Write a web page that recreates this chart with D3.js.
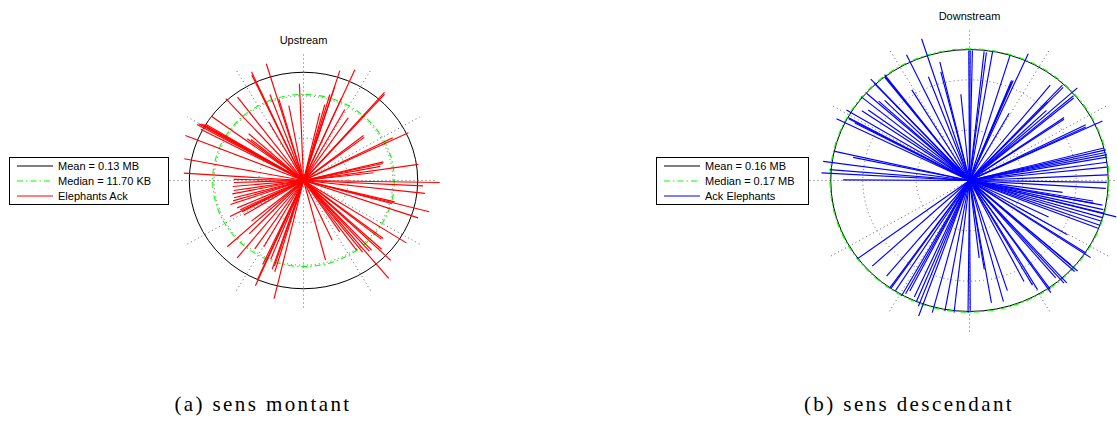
<!DOCTYPE html>
<html>
<head>
<meta charset="utf-8">
<script src="https://cdnjs.cloudflare.com/ajax/libs/d3/7.8.5/d3.min.js"></script>
<style>
  body { margin: 0; background: #fff; }
  svg { display: block; }
</style>
</head>
<body>
<script>
// spike directions (degrees, counter-clockwise from east) and sizes (log10 of bytes)
var upAngles = [176.3, 169.1, 158.1, 152.3, 151.0, 150.3, 149.8, 149.4, 148.8, 143.6,
  141.9, 140.5, 138.0, 132.0, 126.9, 119.3, 114.9, 114.4, 110.3, 106.8,
  106.0, 100.5, 92.3, 179.0, 77.1, 75.1, 73.8, 72.6, 72.5, 66.4,
  66.3, 61.1, 55.9, 48.9, 48.3, 38.3, 36.8, 26.8, 25.6, 13.8,
  12.7, 11.0, 8.4, 6.7, 359.1, 357.3, 353.6, 346.1, 345.3, 344.6,
  341.0, 327.4, 322.5, 321.5, 317.1, 316.0, 312.8, 311.5, 309.5, 308.0,
  305.8, 303.8, 294.5, 284.7, 256.7, 253.4, 252.2, 251.5, 248.5, 246.6,
  246.2, 245.3, 240.4, 236.0, 230.9, 226.0, 222.5, 219.5, 211.5, 208.3,
  207.3, 206.0, 203.5, 199.1, 197.0, 194.7, 191.2, 188.6, 185.1, 181.7];
var upLogBytes = [5.37, 5.44, 5.70, 5.20, 5.45, 5.40, 5.30, 5.20, 5.10, 5.12,
  3.20, 3.05, 3.30, 5.20, 4.92, 3.18, 5.50, 5.64, 4.33, 5.76,
  4.00, 3.60, 4.57, 3.13, 3.28, 3.71, 4.23, 5.44, 4.67, 4.26,
  5.72, 3.83, 3.57, 5.52, 5.45, 3.43, 3.40, 4.48, 5.21, 3.69,
  3.64, 3.50, 5.20, 3.15, 6.10, 5.36, 5.47, 4.21, 5.82, 4.10,
  5.43, 5.47, 4.50, 4.45, 4.77, 5.43, 4.50, 4.45, 6.00, 4.30,
  4.06, 2.92, 3.10, 3.89, 5.73, 4.50, 4.25, 4.42, 4.00, 5.42,
  5.15, 4.37, 3.60, 3.90, 4.71, 3.50, 4.63, 3.02, 3.13, 3.12,
  3.70, 3.15, 3.24, 3.46, 3.30, 3.22, 3.25, 3.16, 3.18, 3.12];

var downAngles = [107.7, 115.3, 103.3, 104.0, 95.4, 90.3, 127.1, 127.5, 127.8, 132.6,
  132.8, 138.1, 140.7, 137.2, 143.6, 148.7, 151.2, 151.6, 153.8, 152.0,
  167.1, 172.1, 168.1, 175.3, 176.9, 179.7, 145.5, 135.0, 121.0, 110.5,
  89.7, 88.8, 83.9, 82.9, 80.4, 73.0, 66.4, 68.4, 68.0, 67.6,
  60.9, 51.4, 47.4, 46.5, 46.8, 44.0, 42.3, 40.8, 40.0, 35.2,
  34.5, 26.9, 26.0, 25.4, 14.4, 13.4, 12.3, 11.3, 10.2, 8.0,
  5.9, 2.5, 270.3, 279.6, 284.8, 276.7, 278.9, 288.0, 297.0, 299.6,
  300.5, 304.4, 305.0, 311.9, 311.0, 309.9, 318.4, 317.5, 318.6, 326.6,
  326.0, 329.6, 334.0, 338.5, 340.0, 341.9, 343.5, 345.5, 347.0, 348.9,
  345.3, 349.0, 350.0, 352.3, 356.5, 359.2, 216.5, 223.0, 230.7, 235.0,
  235.5, 237.6, 240.9, 242.0, 243.0, 245.9, 247.5, 250.5, 249.0, 255.1,
  259.9, 263.7, 269.4];
var downLogBytes = [5.91, 5.53, 4.84, 4.45, 3.44, 5.17, 5.28, 5.20, 5.16, 5.47,
  5.26, 5.19, 5.26, 4.64, 4.72, 5.40, 5.19, 5.15, 5.56, 4.87,
  5.18, 5.54, 4.46, 5.26, 5.56, 4.74, 4.90, 4.50, 4.20, 4.40,
  5.17, 5.17, 5.16, 5.13, 5.20, 5.20, 5.50, 4.28, 4.22, 4.30,
  3.06, 4.85, 5.15, 5.10, 4.28, 4.00, 5.47, 5.15, 5.10, 4.34,
  4.30, 4.89, 4.85, 5.52, 5.20, 5.25, 5.22, 5.25, 5.24, 5.20,
  5.18, 5.18, 5.18, 4.93, 4.98, 3.10, 3.58, 4.60, 4.50, 4.78,
  5.03, 5.40, 5.28, 5.46, 5.40, 5.04, 5.42, 5.35, 5.06, 5.23,
  5.48, 4.26, 3.30, 5.18, 5.20, 5.18, 5.20, 5.22, 5.15, 5.08,
  5.69, 4.76, 4.70, 3.52, 5.12, 5.15, 5.22, 4.99, 4.91, 5.21,
  5.18, 5.18, 5.25, 5.10, 4.93, 5.07, 5.20, 5.71, 5.35, 5.43,
  5.27, 5.28, 5.26];

// mean and median in bytes
var upStats = [130000, 11700];
var downStats = [160000, 170000];

var upLegend = ["Mean = 0.13 MB", "Median = 11.70 KB", "Elephants Ack"];
var downLegend = ["Mean = 0.16 MB", "Median = 0.17 MB", "Ack Elephants"];

var ringTicks = [2, 4];
var spokeAngles = [0, 30, 60, 90, 120, 150];
var rMax = 6;

var w = 1117, h = 423;

var svg = d3.select("body").append("svg")
  .attr("width", w)
  .attr("height", h);

function drawPanel(p) {
  var rx = d3.scaleLinear().domain([0, rMax]).range([0, p.Rx]);
  var ry = d3.scaleLinear().domain([0, rMax]).range([0, p.Ry]);
  var rad = Math.PI / 180;

  var g = svg.append("g")
    .attr("transform", "translate(" + p.cx + "," + p.cy + ")");

  // dotted polar grid
  g.selectAll(".ring")
    .data(ringTicks)
    .enter()
    .append("ellipse")
    .attr("class", "ring")
    .attr("rx", function(d){ return rx(d) })
    .attr("ry", function(d){ return ry(d) })
    .style("fill", "none")
    .style("stroke", "#666")
    .style("stroke-width", 1)
    .style("stroke-dasharray", "1,3");

  g.selectAll(".spoke")
    .data(spokeAngles)
    .enter()
    .append("line")
    .attr("class", "spoke")
    .attr("x1", function(d){ return -rx(rMax) * Math.cos(d * rad) })
    .attr("y1", function(d){ return ry(rMax) * Math.sin(d * rad) })
    .attr("x2", function(d){ return rx(rMax) * Math.cos(d * rad) })
    .attr("y2", function(d){ return -ry(rMax) * Math.sin(d * rad) })
    .style("stroke", "#666")
    .style("stroke-width", 1)
    .style("stroke-dasharray", "1,3");

  // mean and median circles
  var statLogs = p.stats.map(function(d){ return Math.log10(d) });

  g.append("ellipse")
    .attr("rx", rx(statLogs[0]))
    .attr("ry", ry(statLogs[0]))
    .style("fill", "none")
    .style("stroke", "#000")
    .style("stroke-width", 1);

  g.append("ellipse")
    .attr("rx", rx(statLogs[1]))
    .attr("ry", ry(statLogs[1]))
    .style("fill", "none")
    .style("stroke", "#00ff00")
    .style("stroke-width", 1.1)
    .style("stroke-dasharray", "6,3,1.5,3");

  // spikes
  var spikes = p.angles.map(function(a, i){ return { a: a, v: p.values[i] } });

  g.selectAll(".spike")
    .data(spikes)
    .enter()
    .append("line")
    .attr("class", "spike")
    .attr("x1", 0)
    .attr("y1", 0)
    .attr("x2", function(d){ return rx(d.v) * Math.cos(d.a * rad) })
    .attr("y2", function(d){ return -ry(d.v) * Math.sin(d.a * rad) })
    .style("stroke", p.color)
    .style("stroke-width", 1.15);

  // title
  svg.append("text")
    .attr("x", p.cx)
    .attr("y", p.titleY)
    .attr("text-anchor", "middle")
    .text(p.title)
    .style("font-size", "11px")
    .style("font-family", "Liberation Sans, Arial")
    .style("fill", "#000");

  // legend
  var lg = svg.append("g")
    .attr("transform", "translate(" + p.lx + "," + p.ly + ")");

  lg.append("rect")
    .attr("x", 0.5)
    .attr("y", 0.5)
    .attr("width", p.lw)
    .attr("height", 47)
    .style("fill", "#fff")
    .style("stroke", "#000")
    .style("stroke-width", 1);

  var legendStyles = [
    { color: "#000", dash: null },
    { color: "#00ff00", dash: "6,3,1.5,3" },
    { color: p.color, dash: null }
  ];

  var rows = lg.selectAll(".row")
    .data(p.legend)
    .enter()
    .append("g")
    .attr("class", "row")
    .attr("transform", function(d, i){ return "translate(0," + (9 + i * 15) + ")" });

  rows.append("line")
    .attr("x1", 8)
    .attr("x2", 44)
    .attr("y1", 0)
    .attr("y2", 0)
    .style("stroke", function(d, i){ return legendStyles[i].color })
    .style("stroke-dasharray", function(d, i){ return legendStyles[i].dash })
    .style("stroke-width", 1);

  rows.append("text")
    .attr("x", 49)
    .attr("y", 4)
    .text(function(d){ return d })
    .style("font-size", "11px")
    .style("font-family", "Liberation Sans, Arial")
    .style("fill", "#000");

  // caption
  svg.append("text")
    .attr("x", p.capX)
    .attr("y", 411)
    .attr("text-anchor", "middle")
    .text(p.caption)
    .style("font-size", "21px")
    .style("letter-spacing", "2.4px")
    .style("word-spacing", "0px")
    .style("font-family", "Liberation Serif, serif")
    .style("fill", "#000");
}

drawPanel({
  cx: 303.5, cy: 180.5, Rx: 134, Ry: 127,
  angles: upAngles, values: upLogBytes, stats: upStats,
  color: "#ff0000", title: "Upstream", titleY: 44,
  legend: upLegend, lx: 9, ly: 157, lw: 159,
  caption: "(a) sens montant", capX: 263
});

drawPanel({
  cx: 969.5, cy: 180.5, Rx: 160, Ry: 151,
  angles: downAngles, values: downLogBytes, stats: downStats,
  color: "#0000ff", title: "Downstream", titleY: 20,
  legend: downLegend, lx: 656, ly: 157, lw: 152,
  caption: "(b) sens descendant", capX: 909
});
</script>
</body>
</html>
